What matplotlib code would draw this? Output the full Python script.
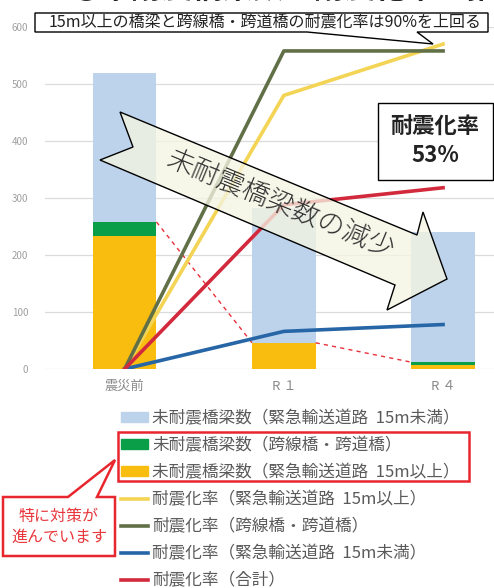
import matplotlib.pyplot as plt
import numpy as np
from matplotlib.patches import Patch, Polygon, Rectangle
from matplotlib.lines import Line2D

plt.rcParams["font.family"] = ["Noto Sans CJK JP", "DejaVu Sans"]

# データ
categories = ["震災前", "R １", "R ４"]
bar_under15 = [261, 236, 228]   # 未耐震橋梁数(緊急輸送道路 15m未満)
bar_cross = [25, 0, 5]          # 未耐震橋梁数(跨線橋・跨道橋)
bar_over15 = [233, 46, 7]       # 未耐震橋梁数(緊急輸送道路 15m以上)
rate_over15 = [0, 80, 95]       # 耐震化率(緊急輸送道路 15m以上)
rate_cross = [0, 93, 93]        # 耐震化率(跨線橋・跨道橋)
rate_under15 = [0, 11, 13]      # 耐震化率(緊急輸送道路 15m未満)
rate_total = [0, 48, 53]        # 耐震化率(合計)
yticks = [0, 100, 200, 300, 400, 500, 600]

labels_bar = ["未耐震橋梁数（緊急輸送道路  15m未満）",
              "未耐震橋梁数（跨線橋・跨道橋）",
              "未耐震橋梁数（緊急輸送道路  15m以上）"]
labels_line = ["耐震化率（緊急輸送道路  15m以上）",
               "耐震化率（跨線橋・跨道橋）",
               "耐震化率（緊急輸送道路  15m未満）",
               "耐震化率（合計）"]

c_blue_bar = "#bdd3ec"
c_green_bar = "#0b9e48"
c_yellow_bar = "#f8bd0f"
c_yellow = "#f3d454"
c_olive = "#627048"
c_blue = "#2666a6"
c_red = "#d22a3c"

W, H = 494, 588


def fx(x):
    return x / W


def fy(y):
    return 1 - y / H


def px(pts):
    return [(fx(x), fy(y)) for x, y in pts]


fig = plt.figure(figsize=(W / 100, H / 100), dpi=100)
ax = fig.add_axes([fx(45), fy(369), fx(494) - fx(45), fy(27) - fy(369)])

x = np.arange(len(categories))
w = 0.4
under15 = np.array(bar_under15)
cross = np.array(bar_cross)
over15 = np.array(bar_over15)
ax.bar(x, over15, w, color=c_yellow_bar)
ax.bar(x, cross, w, bottom=over15, color=c_green_bar)
ax.bar(x, under15, w, bottom=over15 + cross, color=c_blue_bar)

ax.set_ylim(0, 600)
ax.set_xlim(-0.5, 2.32)
ax.set_yticks(yticks)
ax.set_xticks(x, labels=categories)
ax.yaxis.grid(True, color="#dcdcdc", lw=0.9)
ax.set_axisbelow(True)
for s in ax.spines.values():
    s.set_visible(False)
ax.tick_params(length=0)
ax.tick_params(axis="y", labelsize=7, labelcolor="#a0a0a0", pad=12)
ax.tick_params(axis="x", labelsize=9.5, labelcolor="#8a8a8a", pad=8)

# 赤点線（未耐震橋梁数の減少）
red_top = over15 + cross
for i in range(len(x) - 1):
    ax.plot([x[i] + w / 2, x[i + 1] - w / 2], [red_top[i], red_top[i + 1]],
            color="#e8303a", lw=1, dashes=(3, 3))

# 耐震化率（第2軸、非表示）
ax2 = ax.twinx()
ax2.set_ylim(0, 100)
ax2.axis("off")
ax2.plot(x, rate_over15, color=c_yellow, lw=2.6)
ax2.plot(x, rate_cross, color=c_olive, lw=2.6)
ax2.plot(x, rate_under15, color=c_blue, lw=2.6)
ax2.plot(x, rate_total, color=c_red, lw=2.6)

# タイトル（上端で切れている）
fig.text(fx(70), fy(-2), "①未耐震橋梁数と耐震化率の推移", fontsize=22,
         fontweight="bold", color="#262626", va="baseline")

# 上部の吹き出し
fig.patches.append(Polygon(
    px([(35, 13), (488, 13), (488, 32), (417, 32), (433, 44), (307, 32), (35, 32)]),
    closed=True, transform=fig.transFigure, facecolor="white",
    edgecolor="black", lw=1, zorder=5))
fig.text(fx(49), fy(22.5), "15m以上の橋梁と跨線橋・跨道橋の耐震化率は90%を上回る",
         fontsize=11.5, color="#222222", va="center", zorder=6)

# 大きな矢印
arrow = [(120, 112), (417, 235), (423, 212), (447, 279), (387, 310),
         (395, 285), (100, 160), (133, 147)]
fig.patches.append(Polygon(px(arrow), closed=True, transform=fig.transFigure,
                           facecolor="#f5f5e3", alpha=0.78, edgecolor="none",
                           zorder=5))
fig.patches.append(Polygon(px(arrow), closed=True, transform=fig.transFigure,
                           facecolor="none", edgecolor="black", lw=1,
                           zorder=6))
fig.text(fx(281), fy(205), "未耐震橋梁数の減少", fontsize=19.5, color="#303030",
         rotation=-22.5, ha="center", va="center", rotation_mode="anchor",
         fontweight="light", zorder=7)

# 耐震化率ボックス
fig.patches.append(Rectangle((fx(378), fy(180)), fx(493) - fx(378),
                             fy(103) - fy(180), transform=fig.transFigure,
                             facecolor="white", edgecolor="black", lw=1,
                             zorder=5))
fig.text(fx(435), fy(141), "耐震化率\n53%", fontsize=16, fontweight="bold",
         color="#222222", ha="center", va="center", linespacing=1.3, zorder=6)

# 凡例
handles = [Patch(color=c_blue_bar), Patch(color=c_green_bar),
           Patch(color=c_yellow_bar),
           Line2D([], [], color=c_yellow, lw=2.6),
           Line2D([], [], color=c_olive, lw=2.6),
           Line2D([], [], color=c_blue, lw=2.6),
           Line2D([], [], color=c_red, lw=2.6)]
leg = fig.legend(handles, labels_bar + labels_line, loc="upper left",
                 bbox_to_anchor=(fx(121), fy(410)), frameon=False,
                 fontsize=12, handlelength=1.62, handleheight=0.5,
                 handletextpad=0.27, labelspacing=0.6, borderpad=0,
                 borderaxespad=0)
for t in leg.get_texts():
    t.set_color("#5a5a5a")

# 赤枠と吹き出し
fig.patches.append(Rectangle((fx(118), fy(481)), fx(469) - fx(118),
                             fy(432) - fy(481), transform=fig.transFigure,
                             facecolor="none", edgecolor="#e8262e", lw=1.8,
                             zorder=5))
fig.patches.append(Polygon(
    px([(3, 497), (68, 497), (115, 460), (97, 497), (115, 497), (115, 556),
        (3, 556)]),
    closed=True, transform=fig.transFigure, facecolor="white",
    edgecolor="#e8262e", lw=1.8, zorder=5))
fig.text(fx(59), fy(527), "特に対策が\n進んでいます", fontsize=11.5,
         color="#e8383d", ha="center", va="center", linespacing=1.3, zorder=6)

fig.savefig("out.png", dpi=100)
